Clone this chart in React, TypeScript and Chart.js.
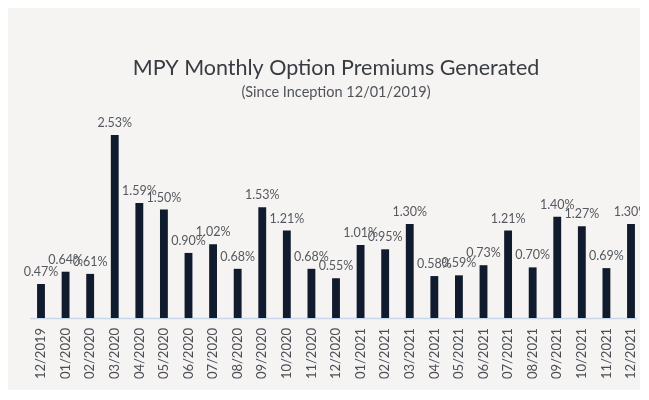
import React, { useEffect, useRef } from "react";
import { Chart, registerables } from "chart.js";

Chart.register(...registerables);

const categories = [
  "12/2019", "01/2020", "02/2020", "03/2020", "04/2020", "05/2020", "06/2020",
  "07/2020", "08/2020", "09/2020", "10/2020", "11/2020", "12/2020", "01/2021",
  "02/2021", "03/2021", "04/2021", "05/2021", "06/2021", "07/2021", "08/2021",
  "09/2021", "10/2021", "11/2021", "12/2021",
];
const premiums = [
  0.47, 0.64, 0.61, 2.53, 1.59, 1.5, 0.9, 1.02, 0.68, 1.53, 1.21, 0.68, 0.55,
  1.01, 0.95, 1.3, 0.58, 0.59, 0.73, 1.21, 0.7, 1.4, 1.27, 0.69, 1.3,
];
const titleText = "MPY Monthly Option Premiums Generated";
const subtitleText = "(Since Inception 12/01/2019)";

const FONT = "Lato, 'Open Sans', sans-serif";

const decorPlugin = {
  id: "decor",
  beforeDatasetsDraw(chart: any) {
    const { ctx, chartArea } = chart;
    ctx.save();
    ctx.strokeStyle = "#c6d7ea";
    ctx.lineWidth = 1.5;
    ctx.beginPath();
    ctx.moveTo(chartArea.left - 11, chartArea.bottom + 0.5);
    ctx.lineTo(chartArea.right + 6, chartArea.bottom + 0.5);
    ctx.stroke();
    ctx.restore();
  },
  afterDatasetsDraw(chart: any) {
    const { ctx, chartArea } = chart;
    ctx.save();
    const cx = (chartArea.left + chartArea.right) / 2;
    ctx.fillStyle = "#383c42";
    ctx.textAlign = "center";
    ctx.textBaseline = "middle";
    ctx.font = `400 21.5px ${FONT}`;
    ctx.fillText(titleText, cx, 60);
    ctx.fillStyle = "#50545a";
    ctx.font = `400 14.5px ${FONT}`;
    ctx.fillText(subtitleText, cx, 84);

    const meta = chart.getDatasetMeta(0);
    ctx.fillStyle = "#55585e";
    ctx.font = `400 12.5px ${FONT}`;
    meta.data.forEach((bar: any, i: number) => {
      const v = chart.data.datasets[0].data[i];
      ctx.fillText(v.toFixed(2) + "%", bar.x, bar.y - 12);
    });
    ctx.restore();
  },
};

export default function App() {
  const ref = useRef<HTMLCanvasElement | null>(null);
  useEffect(() => {
    if (!ref.current) return;
    const chart = new Chart(ref.current, {
      type: "bar",
      data: {
        labels: categories,
        datasets: [
          {
            data: premiums,
            backgroundColor: "#101c2d",
            borderWidth: 0,
            barPercentage: 0.32,
            categoryPercentage: 1,
            clip: false as any,
          },
        ],
      },
      options: {
        animation: false,
        responsive: false,
        layout: { padding: { top: 122, left: 34, right: 9, bottom: 0 } },
        plugins: {
          legend: { display: false },
          tooltip: { enabled: false },
          title: { display: false },
        },
        scales: {
          x: {
            offset: false,
            grid: { display: false, drawTicks: false },
            border: { display: false },
            ticks: {
              minRotation: 90,
              maxRotation: 90,
              autoSkip: false,
              padding: 10,
              color: "#4a4e55",
              font: { family: FONT, size: 13 },
            },
            afterFit(scale: any) {
              scale.height = 72;
              scale.paddingLeft = 0;
              scale.paddingRight = 0;
            },
          },
          y: {
            display: false,
            min: 0,
            max: 2.6,
          },
        },
      },
      plugins: [decorPlugin],
    });
    return () => chart.destroy();
  }, []);
  return (
    <div style={{ marginLeft: -1, width: 633, height: 382, background: "#f5f4f2" }}>
      <canvas ref={ref} width={633} height={382} style={{ display: "block" }} />
    </div>
  );
}
